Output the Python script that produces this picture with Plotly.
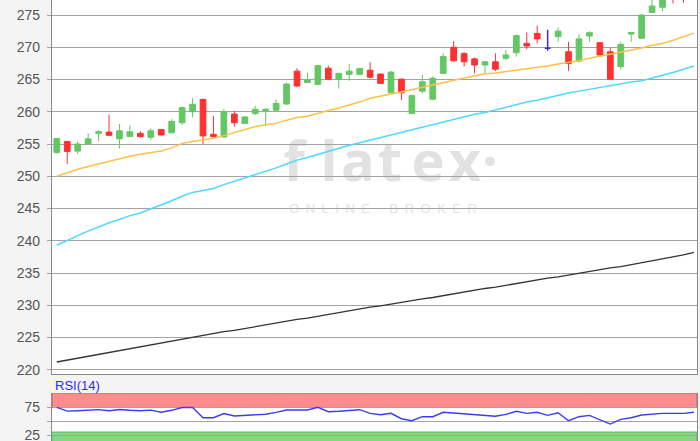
import plotly.graph_objects as go

# ---------------- data ----------------
idx = list(range(62))
opens = [253.7, 255.4, 253.9, 255.0, 256.65, 256.85, 255.8, 256.15, 256.65, 256.05,
         257.25, 256.75, 258.3, 260.0, 261.9, 256.5, 256.1, 259.65, 258.2, 259.75,
         260.15, 260.25, 261.2, 266.3, 264.55, 264.25, 266.75, 265.05, 265.8, 265.8,
         266.45, 265.85, 262.95, 265.05, 259.75, 263.2, 261.95, 265.95, 270.0, 269.05,
         268.2, 267.25, 267.75, 268.3, 269.15, 270.6, 272.15, 269.85, 271.65, 269.3,
         267.85, 271.75, 270.7, 269.3, 267.0, 272.05, 271.4, 275.4, 276.2, 278.6,
         278.8, 279.0]
highs = [255.9, 255.5, 255.4, 256.65, 257.15, 259.55, 258.1, 257.85, 257.0, 257.45,
         257.3, 258.85, 260.8, 262.1, 262.05, 259.35, 260.45, 260.15, 259.3, 260.9,
         260.5, 261.9, 264.5, 266.75, 266.1, 267.3, 267.15, 266.05, 267.4, 266.8,
         267.7, 265.9, 266.3, 265.2, 262.7, 265.7, 265.5, 269.05, 271.0, 269.25,
         268.4, 267.9, 269.05, 269.55, 272.0, 272.3, 273.35, 272.7, 273.1, 270.85,
         272.0, 272.5, 270.8, 269.95, 270.85, 272.3, 275.1, 277.5, 278.0, 279.0,
         279.2, 280.5]
lows = [253.5, 251.9, 253.45, 254.95, 255.45, 256.3, 254.3, 256.1, 255.95, 255.6,
        256.35, 256.65, 257.95, 259.15, 255.0, 256.0, 256.0, 257.7, 258.1, 259.5,
        257.8, 260.0, 261.1, 263.8, 264.5, 264.2, 264.9, 263.6, 264.8, 265.7,
        265.2, 264.3, 262.9, 261.8, 259.6, 262.85, 261.8, 265.85, 267.75, 267.0,
        265.95, 265.95, 266.3, 268.0, 268.55, 269.7, 270.6, 269.45, 270.85, 266.35,
        267.65, 270.85, 268.65, 265.0, 266.55, 270.85, 271.3, 275.3, 275.6, 276.8,
        276.9, 278.0]
closes = [255.85, 253.85, 255.0, 255.8, 256.9, 256.35, 257.05, 256.9, 256.15, 257.05,
          256.4, 258.5, 260.65, 261.15, 256.25, 256.15, 260.0, 258.3, 259.2, 260.4,
          260.4, 261.3, 264.3, 264.0, 265.0, 267.15, 265.05, 265.95, 266.3, 266.7,
          265.35, 264.4, 266.15, 262.95, 262.5, 264.65, 265.2, 268.55, 267.9, 267.75,
          267.25, 267.75, 266.6, 268.8, 271.8, 270.2, 271.3, 269.85, 272.5, 267.5,
          271.3, 272.25, 268.8, 265.05, 270.45, 272.3, 275.0, 276.4, 277.6, 277.9,
          278.1, 280.0]
ma_short = [250.0, 250.6, 251.1, 251.5, 251.9, 252.4, 252.8, 253.1, 253.4, 253.7,
            253.9, 254.4, 255.1, 255.4, 255.6, 255.9, 256.3, 256.8, 257.3, 257.7,
            258.0, 258.2, 258.7, 259.1, 259.3, 259.8, 260.2, 260.6, 261.0, 261.5,
            262.1, 262.4, 262.8, 263.1, 263.4, 263.8, 264.1, 264.5, 264.9, 265.2,
            265.6, 265.9, 266.0, 266.2, 266.5, 266.7, 266.9, 267.1, 267.4, 267.6,
            267.9, 268.3, 268.6, 268.9, 269.3, 269.6, 269.9, 270.3, 270.6, 271.1,
            271.6, 272.2]
ma_mid = [239.3, 240.1, 240.8, 241.5, 242.2, 242.8, 243.3, 243.9, 244.3, 244.9,
          245.5, 246.2, 246.9, 247.5, 247.8, 248.1, 248.7, 249.2, 249.7, 250.3,
          250.8, 251.3, 251.9, 252.5, 252.9, 253.4, 253.8, 254.3, 254.8, 255.2,
          255.6, 256.0, 256.4, 256.8, 257.3, 257.7, 258.1, 258.5, 258.9, 259.2,
          259.6, 259.9, 260.3, 260.8, 261.2, 261.5, 261.8, 262.2, 262.6, 262.9,
          263.2, 263.5, 263.8, 264.1, 264.4, 264.6, 264.8, 265.2, 265.6, 266.1,
          266.6, 267.1]
ma_long = [221.2, 221.5, 221.8, 222.1, 222.4, 222.7, 223.0, 223.3, 223.6, 223.9,
           224.2, 224.5, 224.7, 225.0, 225.3, 225.6, 225.9, 226.1, 226.4, 226.7,
           227.0, 227.2, 227.5, 227.8, 228.0, 228.3, 228.6, 228.9, 229.1, 229.4,
           229.7, 229.9, 230.2, 230.4, 230.7, 231.0, 231.2, 231.5, 231.8, 232.0,
           232.3, 232.6, 232.8, 233.1, 233.4, 233.6, 233.9, 234.2, 234.4, 234.7,
           235.0, 235.2, 235.5, 235.8, 236.0, 236.3, 236.6, 236.8, 237.1, 237.4,
           237.8, 238.2]
rsi = [75.3, 68.5, 69.3, 69.8, 71.3, 69.3, 71.5, 70.0, 69.3, 70.3,
       66.6, 70.0, 75.0, 75.0, 56.8, 56.8, 64.3, 59.8, 61.0, 61.8,
       63.0, 66.4, 70.5, 70.5, 70.5, 75.3, 67.5, 68.2, 69.3, 71.1,
       64.6, 62.1, 64.6, 55.0, 51.4, 58.6, 58.6, 66.4, 65.2, 63.6,
       62.8, 61.6, 59.3, 62.8, 68.2, 64.6, 66.4, 61.0, 65.7, 51.4,
       58.6, 61.0, 53.9, 45.5, 53.9, 56.8, 61.6, 63.6, 64.6, 64.6,
       64.6, 66.4]
price_ticks = [220, 225, 230, 235, 240, 245, 250, 255, 260, 265, 270, 275]
rsi_ticks = [25, 50, 75]
rsi_tick_text = ["25", "", "75"]
rsi_label = "RSI(14)"
brand = "flatex"
brand_sub = "ONLINE BROKER"

# ---------------- styles ----------------
GREEN = "#63c763"
RED = "#ff3030"
DOJI = "#3a2fd6"
TXT = "#555555"
GRID = "#a3a3a3"
FONT = "Liberation Sans, Arial, sans-serif"

W, H = 700, 441
ML, MR = 52, 3
PW = W - ML - MR


def px_x(p):
    return (p - ML) / PW


def px_y(p):
    return (H - p) / H


reg = [i for i in idx if opens[i] != closes[i]]
doj = [i for i in idx if opens[i] == closes[i]]

fig = go.Figure()

# moving averages (drawn first, below candles)
fig.add_trace(go.Scatter(x=idx, y=ma_long, mode="lines", line=dict(color="#333333", width=1.3),
                         xaxis="x", yaxis="y", hoverinfo="skip", showlegend=False))
fig.add_trace(go.Scatter(x=idx, y=ma_mid, mode="lines", line=dict(color="#4dd8ff", width=1.5),
                         xaxis="x", yaxis="y", hoverinfo="skip", showlegend=False))
fig.add_trace(go.Scatter(x=idx, y=ma_short, mode="lines", line=dict(color="#ffc04a", width=1.5),
                         xaxis="x", yaxis="y", hoverinfo="skip", showlegend=False))

fig.add_trace(go.Candlestick(
    x=[idx[i] for i in reg], open=[opens[i] for i in reg], high=[highs[i] for i in reg],
    low=[lows[i] for i in reg], close=[closes[i] for i in reg],
    increasing=dict(line=dict(color=GREEN, width=1), fillcolor=GREEN),
    decreasing=dict(line=dict(color=RED, width=1), fillcolor=RED),
    whiskerwidth=0, xaxis="x", yaxis="y", hoverinfo="skip", showlegend=False))
fig.add_trace(go.Candlestick(
    x=[idx[i] for i in doj], open=[opens[i] for i in doj], high=[highs[i] for i in doj],
    low=[lows[i] for i in doj], close=[closes[i] for i in doj],
    increasing=dict(line=dict(color=DOJI, width=1.5), fillcolor=DOJI),
    decreasing=dict(line=dict(color=DOJI, width=1.5), fillcolor=DOJI),
    whiskerwidth=0, xaxis="x", yaxis="y", hoverinfo="skip", showlegend=False))

fig.add_trace(go.Scatter(x=idx, y=rsi, mode="lines", line=dict(color="#3b3bff", width=1.4),
                         xaxis="x2", yaxis="y2", hoverinfo="skip", showlegend=False))

RSI_LO, RSI_HI = 15.2, 100.9

shapes = [
    dict(type="rect", xref="x2 domain", yref="y2", x0=0, x1=1, y0=75, y1=RSI_HI,
         fillcolor="#ff8c8c", line=dict(color="#d86060", width=1.2), layer="below"),
    dict(type="rect", xref="x2 domain", yref="y2", x0=0, x1=1, y0=0, y1=31.2,
         fillcolor="#86d686", line=dict(color="#5fb85f", width=1), layer="below"),
]

# watermark letters
letters = list(brand) + ["\u00b7"]
centers = [294, 329, 358, 390, 428, 465, 490]
for ch, cx in zip(letters, centers):
    shapes.append(dict(type="rect", xref="paper", yref="paper",
                       x0=px_x(cx - 20), x1=px_x(cx + 20), y0=px_y(190), y1=px_y(136),
                       line=dict(width=0), fillcolor="rgba(0,0,0,0)", layer="below",
                       label=dict(text=ch, textposition="middle center",
                                  font=dict(family="Open Sans", size=56, color="#e2e2e2", weight="bold"))))
shapes.append(dict(type="rect", xref="paper", yref="paper",
                   x0=px_x(280), x1=px_x(486), y0=px_y(215), y1=px_y(199),
                   line=dict(width=0), fillcolor="rgba(0,0,0,0)", layer="below",
                   label=dict(text="\u2002".join(brand_sub.replace(" ", "\u2002")),
                              textposition="middle center",
                              font=dict(family=FONT, size=13, color="#e2e2e2"))))

fig.update_layout(
    width=W, height=H,
    margin=dict(l=ML, r=MR, t=0, b=0, pad=0, autoexpand=False),
    paper_bgcolor="#f4f4f4", plot_bgcolor="#ffffff",
    boxgap=0.22,
    showlegend=False,
    xaxis=dict(domain=[0, 1], range=[-0.46, 61.3], anchor="y", showgrid=False, zeroline=False,
               showticklabels=False, ticks="", showline=True, mirror=False, linecolor="#8a8a8a",
               linewidth=1.3, rangeslider=dict(visible=False), fixedrange=True, automargin=False),
    yaxis=dict(domain=[1 - 374 / H, 1], range=[219.34, 277.33], tickvals=price_ticks,
               showgrid=True, gridcolor=GRID, gridwidth=1.4, zeroline=False,
               showline=True, mirror=True, linecolor="#8a8a8a", linewidth=1.3,
               ticks="outside", ticklen=4, tickcolor=GRID, ticklabelstandoff=4,
               ticklabeloverflow="allow",
               tickfont=dict(family=FONT, size=14, color=TXT), fixedrange=True, automargin=False),
    xaxis2=dict(domain=[0, 1], anchor="y2", matches="x", showgrid=False, zeroline=False,
                showticklabels=False, ticks="", showline=False,
                rangeslider=dict(visible=False), automargin=False),
    yaxis2=dict(domain=[0, 1 - 393 / H], range=[RSI_LO, RSI_HI], tickvals=rsi_ticks,
                ticktext=rsi_tick_text, showgrid=True, gridcolor=GRID, gridwidth=1.4,
                zeroline=False, showline=True, mirror=True, linecolor="#8a8a8a", linewidth=1.3,
                ticks="outside", ticklen=4, tickcolor=GRID, ticklabelstandoff=4,
                ticklabeloverflow="allow",
                tickfont=dict(family=FONT, size=14, color=TXT), fixedrange=True, automargin=False),
    shapes=shapes,
    annotations=[dict(text=rsi_label, xref="paper", yref="paper", x=px_x(53), y=px_y(385),
                      xanchor="left", yanchor="middle", showarrow=False,
                      font=dict(family=FONT, size=13, color="#2a2aff"))],
)

# remove the page's default body margin so the figure sits at the window origin
page_fix = ("document.documentElement.style.margin='0';document.body.style.margin='0';"
            "document.body.style.padding='0';document.documentElement.style.overflow='hidden';"
            "document.body.style.overflow='hidden';")

fig.write_html("out.html", config={"displayModeBar": False}, post_script=page_fix)
